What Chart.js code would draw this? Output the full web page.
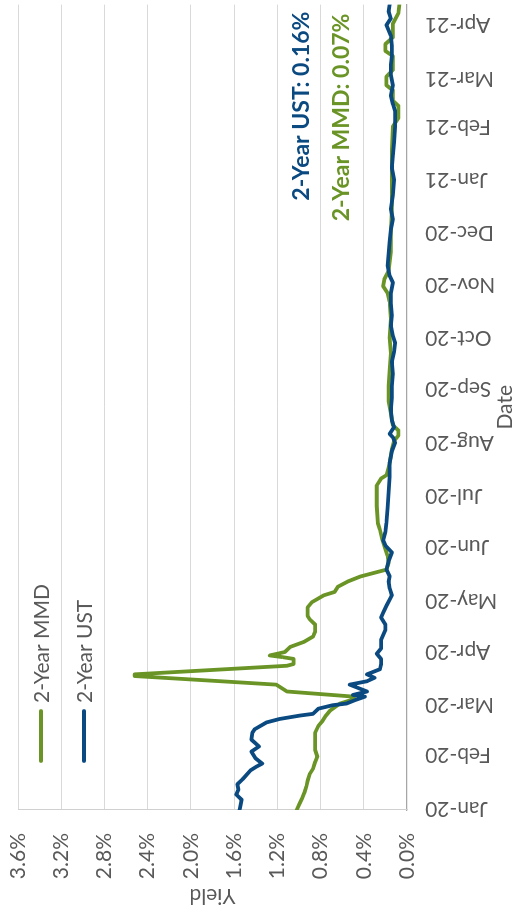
<!DOCTYPE html>
<html>
<head>
<meta charset="utf-8">
<script src="https://cdn.jsdelivr.net/npm/chart.js@4.4.1/dist/chart.umd.min.js"></script>
<style>
html,body{margin:0;padding:0;background:#fff;overflow:hidden;width:512px;height:913px;}
#wrap{position:absolute;left:0;top:913px;width:913px;height:512px;transform-origin:0 0;transform:rotate(-90deg);}
canvas{display:block;}
</style>
</head>
<body>
<div id="wrap"><canvas id="c" width="913" height="512"></canvas></div>
<script>
// ---- tick labels ----
const monthTickDates = ['2020-01-01','2020-02-01','2020-03-01','2020-04-01','2020-05-01','2020-06-01','2020-07-01','2020-08-01','2020-09-01','2020-10-01','2020-11-01','2020-12-01','2021-01-01','2021-02-01','2021-03-01','2021-04-01'];
const monthTickLabels = ['Jan-20','Feb-20','Mar-20','Apr-20','May-20','Jun-20','Jul-20','Aug-20','Sep-20','Oct-20','Nov-20','Dec-20','Jan-21','Feb-21','Mar-21','Apr-21'];
const yieldTicks = [0, 0.4, 0.8, 1.2, 1.6, 2.0, 2.4, 2.8, 3.2, 3.6];
const yieldTickLabels = ['0.0%','0.4%','0.8%','1.2%','1.6%','2.0%','2.4%','2.8%','3.2%','3.6%'];

// ---- 2-Year MMD ----
const mmdDates = ['2019-12-31','2020-01-03','2020-01-07','2020-01-10','2020-01-14','2020-01-17','2020-01-21','2020-01-24','2020-01-28','2020-01-31',
'2020-02-04','2020-02-10','2020-02-14','2020-02-18','2020-02-21','2020-02-24','2020-02-27','2020-03-02','2020-03-04','2020-03-06',
'2020-03-09','2020-03-13','2020-03-15','2020-03-18','2020-03-19','2020-03-24','2020-03-25','2020-03-28','2020-03-29','2020-03-30',
'2020-04-01','2020-04-04','2020-04-07','2020-04-10','2020-04-13','2020-04-17','2020-04-20','2020-04-22','2020-04-27','2020-04-30',
'2020-05-04','2020-05-06','2020-05-09','2020-05-12','2020-05-15','2020-05-19','2020-05-23','2020-05-27','2020-05-31','2020-06-06',
'2020-06-11','2020-06-15','2020-06-25','2020-07-07','2020-07-11','2020-07-13','2020-07-20','2020-07-28','2020-08-02','2020-08-05',
'2020-08-08','2020-08-11','2020-08-18','2020-08-25','2020-09-03','2020-09-12','2020-09-22','2020-10-01','2020-10-12','2020-10-22',
'2020-10-27','2020-10-31','2020-11-04','2020-11-09','2020-11-20','2020-12-01','2020-12-15','2021-01-01','2021-01-18','2021-02-01',
'2021-02-06','2021-02-13','2021-02-16','2021-02-22','2021-02-25','2021-03-02','2021-03-06','2021-03-14','2021-03-17','2021-03-21',
'2021-03-25','2021-04-02','2021-04-08','2021-04-13'];
const mmdValues = [1.02,1.00,0.97,0.95,0.93,0.92,0.90,0.87,0.85,0.83,
0.85,0.85,0.85,0.82,0.78,0.75,0.71,0.62,0.52,0.49,
1.11,1.21,1.73,2.52,2.52,1.11,1.05,1.05,1.15,1.27,
1.13,1.08,0.95,0.87,0.85,0.85,0.90,0.92,0.92,0.88,
0.77,0.67,0.64,0.55,0.43,0.19,0.17,0.18,0.20,0.23,
0.25,0.27,0.28,0.28,0.24,0.19,0.16,0.14,0.12,0.08,
0.08,0.13,0.15,0.17,0.17,0.16,0.15,0.16,0.15,0.16,
0.18,0.22,0.21,0.17,0.15,0.15,0.14,0.14,0.14,0.13,
0.08,0.08,0.13,0.13,0.19,0.19,0.13,0.13,0.20,0.20,
0.13,0.13,0.08,0.07];

// ---- 2-Year UST ----
const ustDates = ['2019-12-31','2020-01-03','2020-01-06','2020-01-09','2020-01-12','2020-01-15','2020-01-18','2020-01-23','2020-01-25','2020-01-27',
'2020-01-30','2020-02-03','2020-02-06','2020-02-10','2020-02-14','2020-02-16','2020-02-20','2020-02-22','2020-02-24','2020-02-25',
'2020-02-28','2020-03-01','2020-03-02','2020-03-04','2020-03-06','2020-03-07','2020-03-09','2020-03-11','2020-03-13','2020-03-15',
'2020-03-17','2020-03-19','2020-03-22','2020-03-25','2020-03-28','2020-03-31','2020-04-03','2020-04-08','2020-04-11','2020-04-14',
'2020-04-17','2020-04-21','2020-04-24','2020-04-28','2020-05-04','2020-05-08','2020-05-12','2020-05-15','2020-05-19','2020-05-24',
'2020-05-29','2020-06-02','2020-06-05','2020-06-10','2020-06-15','2020-06-24','2020-07-03','2020-07-12','2020-07-20','2020-07-27',
'2020-08-01','2020-08-04','2020-08-06','2020-08-10','2020-08-14','2020-08-20','2020-08-27','2020-09-03','2020-09-10','2020-09-17',
'2020-09-23','2020-09-28','2020-10-02','2020-10-08','2020-10-14','2020-10-21','2020-10-27','2020-11-02','2020-11-06','2020-11-12',
'2020-11-19','2020-11-26','2020-12-03','2020-12-09','2020-12-15','2020-12-23','2021-01-01','2021-01-08','2021-01-15','2021-01-23',
'2021-02-01','2021-02-10','2021-02-14','2021-02-19','2021-02-25','2021-03-03','2021-03-09','2021-03-14','2021-03-20','2021-03-26',
'2021-04-01','2021-04-05','2021-04-09','2021-04-13'];
const ustValues = [1.55,1.54,1.53,1.58,1.56,1.57,1.52,1.45,1.40,1.34,
1.40,1.44,1.37,1.44,1.43,1.41,1.30,1.18,0.99,0.87,
0.82,0.69,0.56,0.48,0.39,0.50,0.37,0.45,0.53,0.37,
0.30,0.37,0.25,0.24,0.24,0.28,0.24,0.24,0.22,0.20,
0.20,0.24,0.22,0.19,0.14,0.16,0.17,0.16,0.19,0.17,
0.14,0.20,0.22,0.20,0.19,0.18,0.17,0.16,0.16,0.14,
0.11,0.13,0.16,0.12,0.14,0.15,0.14,0.14,0.13,0.14,
0.12,0.11,0.13,0.15,0.14,0.15,0.15,0.13,0.16,0.18,
0.17,0.16,0.15,0.13,0.15,0.13,0.12,0.14,0.13,0.12,
0.11,0.11,0.13,0.15,0.13,0.15,0.15,0.14,0.14,0.15,
0.19,0.15,0.17,0.16];

const GREEN = '#6a9526';
const BLUE = '#0a4a80';
const TEXT = '#595959';
const FONT = 'Lato, "Open Sans", sans-serif';

const DAY0 = Date.UTC(2020, 0, 1);
function toDay(s) {
  const p = s.split('-').map(Number);
  return (Date.UTC(p[0], p[1] - 1, p[2]) - DAY0) / 864e5;
}
const monthTickDays = monthTickDates.map(toDay);

const overlay = {
  id: 'overlay',
  afterDraw(chart) {
    const c = chart.ctx;
    const a = chart.chartArea;
    c.save();
    // legend (inside plot area, upper left)
    const items = [
      {label: chart.data.datasets[1].label, color: GREEN, y: a.top + 23},
      {label: chart.data.datasets[0].label, color: BLUE, y: a.top + 66}
    ];
    items.forEach(it => {
      c.strokeStyle = it.color;
      c.lineWidth = 3.8;
      c.lineCap = 'round';
      c.beginPath();
      c.moveTo(a.left + 49, it.y);
      c.lineTo(a.left + 99, it.y);
      c.stroke();
      c.fillStyle = TEXT;
      c.font = '21px ' + FONT;
      c.textAlign = 'left';
      c.textBaseline = 'middle';
      c.fillText(it.label, a.left + 107, it.y + 1);
    });
    // end-value annotations
    const ust = chart.data.datasets[0], mmd = chart.data.datasets[1];
    c.font = 'bold 23px ' + FONT;
    c.textAlign = 'right';
    c.textBaseline = 'middle';
    c.fillStyle = BLUE;
    c.fillText(ust.label + ': ' + ust.data[ust.data.length - 1].y.toFixed(2) + '%', a.right - 7, 302);
    c.fillStyle = GREEN;
    c.fillText(mmd.label + ': ' + mmd.data[mmd.data.length - 1].y.toFixed(2) + '%', a.right - 9, 342);
    c.restore();
  }
};

new Chart(document.getElementById('c'), {
  type: 'line',
  data: {
    datasets: [
      {label: '2-Year UST', data: ustDates.map((d, i) => ({x: toDay(d), y: ustValues[i]})),
       borderColor: BLUE, backgroundColor: BLUE, borderWidth: 3.8, pointRadius: 0, tension: 0,
       borderJoinStyle: 'round', borderCapStyle: 'round', order: 0},
      {label: '2-Year MMD', data: mmdDates.map((d, i) => ({x: toDay(d), y: mmdValues[i]})),
       borderColor: GREEN, backgroundColor: GREEN, borderWidth: 3.8, pointRadius: 0, tension: 0,
       borderJoinStyle: 'round', borderCapStyle: 'round', order: 1}
    ]
  },
  options: {
    responsive: false,
    animation: false,
    devicePixelRatio: 1,
    layout: {padding: {top: 18, right: 0, bottom: 0, left: 0}},
    plugins: {legend: {display: false}, tooltip: {enabled: false}},
    scales: {
      x: {
        type: 'linear', min: -1, max: 468,
        afterBuildTicks: s => { s.ticks = monthTickDays.map(v => ({value: v})); },
        afterFit: s => { s.height = 105; },
        ticks: {autoSkip: false, minRotation: 90, maxRotation: 90, padding: 0, color: TEXT,
                font: {family: FONT, size: 21},
                callback: (v, i) => monthTickLabels[i]},
        grid: {display: true, drawOnChartArea: false, drawTicks: true, tickLength: 18,
               color: 'rgba(0,0,0,0)', tickColor: 'rgba(0,0,0,0)'},
        border: {display: true, color: '#a6a6a6', width: 1.3},
        title: {display: true, text: 'Date', color: TEXT, font: {family: FONT, size: 21, lineHeight: 1},
                padding: {top: 0, bottom: -4}}
      },
      y: {
        min: 0, max: 3.6,
        afterBuildTicks: s => { s.ticks = yieldTicks.map(v => ({value: v})); },
        afterFit: s => { s.width = 103; },
        ticks: {padding: 0, color: TEXT, font: {family: FONT, size: 21},
                callback: (v, i) => yieldTickLabels[i]},
        grid: {color: ctx => (ctx.tick && ctx.tick.value === 0) ? 'rgba(0,0,0,0)' : '#d9d9d9',
               lineWidth: 1, drawTicks: true, tickLength: 23, tickColor: 'rgba(0,0,0,0)'},
        border: {display: true, color: '#d0d0d0', width: 1},
        title: {display: true, text: 'Yield', color: TEXT, font: {family: FONT, size: 21, lineHeight: 1},
                padding: {top: 7, bottom: 0}}
      }
    }
  },
  plugins: [overlay]
});
</script>
</body>
</html>
